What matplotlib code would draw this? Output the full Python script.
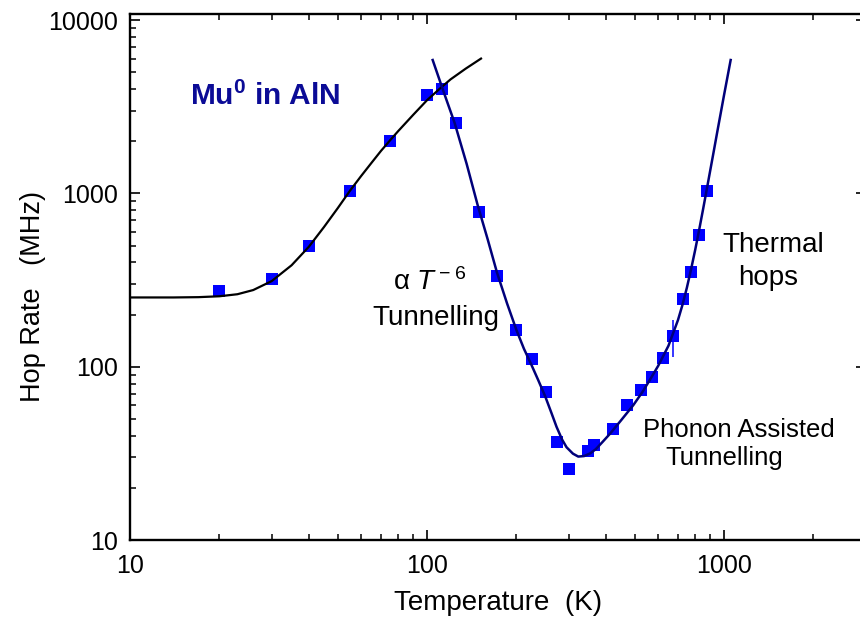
import matplotlib
matplotlib.use('Agg')
import matplotlib.pyplot as plt
from matplotlib.ticker import FixedLocator, FuncFormatter, LogLocator, NullFormatter

# ---------------- data ----------------
temperature = [20, 30, 40, 55, 75, 100, 112, 125, 150, 172, 200, 225, 251, 274,
               300, 349, 365, 423, 473, 524, 574, 625, 675, 726, 775, 824, 878]
hop_rate = [275, 319, 497, 1037, 2005, 3700, 3990, 2538, 784, 333, 163, 111, 71,
            37, 25.6, 32.7, 35.3, 43.7, 60, 73.4, 87, 113, 151, 246, 350, 575, 1032]
err_low = [0] * 22 + [37] + [0] * 4
err_high = [0] * 22 + [35] + [0] * 4

# low temperature fit curve (black)
fit1_T = [10, 14, 17, 20, 23, 26, 30, 35, 40, 45, 50, 55, 60, 65, 70, 75, 80,
          90, 100, 110, 120, 135, 152]
fit1_R = [251, 251, 252, 255, 262, 277, 312, 385, 492, 640, 820, 1035, 1260,
          1500, 1760, 2020, 2290, 2850, 3450, 4000, 4550, 5250, 6000]

# tunnelling / thermal fit curve (navy)
fit2_T = [104.5, 113.5, 124, 136, 148, 160, 172, 186, 200, 212, 225, 237, 250,
          262, 273, 285, 295, 310, 323, 338, 354, 370, 390, 413, 450, 495, 530,
          563, 600, 650, 700, 725, 750, 775, 800, 825, 850, 875, 900, 925, 950,
          975, 1000, 1025, 1053]
fit2_R = [5888, 3900, 2540, 1480, 860, 545, 350, 232, 163, 127, 102, 83.5, 67.5,
          54.5, 45, 38, 34.3, 31.5, 30.3, 30.5, 31.6, 33.4, 36.8, 41, 49, 60, 71,
          84, 101, 132, 186, 228, 286, 366, 473, 617, 808, 1056, 1374, 1775, 2284,
          2908, 3682, 4607, 5888]

x_major = [10, 100, 1000]
y_major = [10, 100, 1000, 10000]

# ---------------- style ----------------
plt.rcParams['font.family'] = ['Liberation Sans', 'DejaVu Sans']
plt.rcParams['mathtext.fontset'] = 'custom'
plt.rcParams['mathtext.rm'] = 'Liberation Sans'
plt.rcParams['mathtext.it'] = 'Liberation Sans:italic'
plt.rcParams['mathtext.bf'] = 'Liberation Sans:bold'

fig = plt.figure(figsize=(8.6, 6.21), dpi=100)
ax = fig.add_axes([130 / 860, 81 / 621, 735.7 / 860, 526 / 621])
ax.set_xscale('log')
ax.set_yscale('log')
ax.set_xlim(10, 3000)
ax.set_ylim(10, 10850)

ax.errorbar(temperature, hop_rate, yerr=[err_low, err_high], fmt='none',
            ecolor='#0000FF', elinewidth=1.1, capsize=0, zorder=2)
ax.plot(temperature, hop_rate, 's', color='#0000FF', markersize=8.5,
        markeredgewidth=0, zorder=2)
ax.plot(fit1_T, fit1_R, '-', color='black', lw=1.6, zorder=3,
        solid_joinstyle='round')
ax.plot(fit2_T, fit2_R, '-', color='#00007A', lw=1.8, zorder=3,
        solid_joinstyle='round')

ax.xaxis.set_major_locator(FixedLocator(x_major))
ax.yaxis.set_major_locator(FixedLocator(y_major))
ax.xaxis.set_minor_locator(LogLocator(base=10, subs=range(2, 10)))
ax.yaxis.set_minor_locator(LogLocator(base=10, subs=range(2, 10)))
fmt = FuncFormatter(lambda v, p: f'{v:g}')
ax.xaxis.set_major_formatter(fmt)
ax.yaxis.set_major_formatter(fmt)
ax.xaxis.set_minor_formatter(NullFormatter())
ax.yaxis.set_minor_formatter(NullFormatter())

ax.tick_params(which='both', direction='in', top=True, right=True, color='black')
ax.tick_params(which='major', length=7.5, width=1.2, labelsize=18)
ax.tick_params(which='minor', length=4.3, width=1.1)
ax.tick_params(axis='y', which='major', pad=8.5)
ax.tick_params(axis='x', which='major', pad=10)
for s in ax.spines.values():
    s.set_linewidth(1.7)

# annotations
ax.text(15.9, 3236, r'Mu$^{\mathbf{0}}$ in AlN', fontsize=21.5, fontweight='bold',
        color='#0B0B96', ha='left', va='baseline')
ax.text(76.6, 277, r'α $T^{\,\mathrm{-\ 6}}$', fontsize=20, ha='left', va='baseline')
ax.text(65.4, 174, 'Tunnelling', fontsize=20, ha='left', va='baseline')
ax.text(1468, 461, 'Thermal', fontsize=20, ha='center', va='baseline')
ax.text(1406, 296, 'hops', fontsize=20, ha='center', va='baseline')
ax.text(533, 39.5, 'Phonon Assisted', fontsize=18.5, ha='left', va='baseline')
ax.text(633, 27.1, 'Tunnelling', fontsize=18.5, ha='left', va='baseline')

fig.text(498 / 860, 1 - 603 / 621, 'Temperature  (K)', fontsize=20,
         ha='center', va='center')
fig.text(33 / 860, 1 - 296 / 621, 'Hop Rate   (MHz)', fontsize=19.5,
         rotation=90, ha='center', va='center')

fig.savefig('out.png', dpi=100)
